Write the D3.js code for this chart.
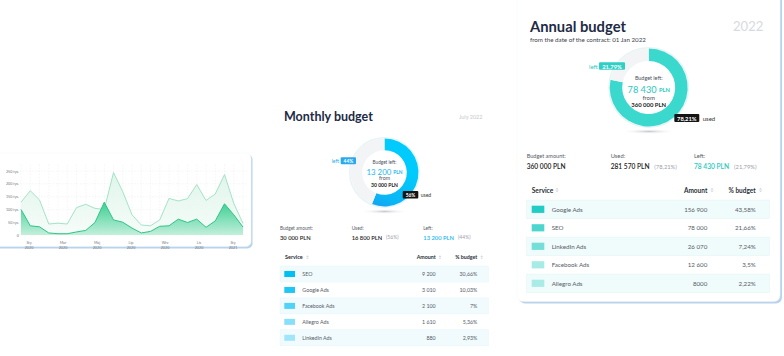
<!DOCTYPE html>
<html><head><meta charset="utf-8">
<script src="https://cdn.jsdelivr.net/npm/d3@7"></script>
<style>body{margin:0;background:#fff}svg{display:block}text{font-family:Lato,"Open Sans",sans-serif}</style>
</head><body><svg id="c" width="784" height="356"></svg>
<script>
// ---------- data ----------
const trendMonths = ["Sty","Mar","Maj","Lip","Wrz","Lis","Sty"];
const trendYears = ["2020","2020","2020","2020","2020","2020","2021"];
const trendYTicks = [0,50,100,150,200,250];
const totalSeries = [128,173,137,43,46,43,107,120,104,100,244,169,79,39,36,59,143,133,142,197,135,160,236,124,45];
const adsSeries   = [100,36,32,8,5,5,12,18,49,128,59,50,27,8,14,34,36,62,49,62,30,55,122,79,31];

const monthlyServices = ["SEO","Google Ads","Facebook Ads","Allegro Ads","LinkedIn Ads"];
const monthlyAmounts = ["9 200","3 010","2 100","1 610","880"];
const monthlyShares = ["30,66%","10,03%","7%","5,36%","2,93%"];
const monthlyColors = ["#00bff3","#1ec8f6","#4fd3f8","#86e0fa","#9fe6fb"];
const monthlySplit = [56,44]; // used, left

const annualServices = ["Google Ads","SEO","LinkedIn Ads","Facebook Ads","Allegro Ads"];
const annualAmounts = ["156 900","78 000","26 070","12 600","8000"];
const annualShares = ["43,58%","21,66%","7,24%","3,5%","2,22%"];
const annualColors = ["#20ccc3","#4dd6ce","#74dfd9","#a6ebe6","#a9ece7"];
const annualSplit = [78.21,21.79];

const svg = d3.select("#c");
const defs = svg.append("defs");

function T(g, x, y, s, o) {
  const t = g.append("text").attr("x", x).attr("y", y)
    .attr("dominant-baseline", "central")
    .attr("text-anchor", o.anchor || "start")
    .attr("fill", o.fill || "#333")
    .style("font-size", o.size + "px")
    .style("font-weight", o.w || 400);
  if (o.html) t.html(s); else t.text(s);
  if (o.width) {
    const L = t.node().getComputedTextLength();
    if (L > 0) t.style("font-size", (o.size * o.width / L) + "px");
  }
  return t;
}
function sortIcon(g, x, y, s) {
  g.append("path").attr("d", `M${x-s},${y-0.4}L${x+s},${y-0.4}L${x},${y-0.4-s*1.1}Z M${x-s},${y+0.4}L${x+s},${y+0.4}L${x},${y+0.4+s*1.1}Z`)
    .attr("fill", "#d3d7dc");
}
function badge(g, x0, x1, yc, h, fill, label, size) {
  g.append("rect").attr("x", x0).attr("y", yc - h/2).attr("width", x1 - x0).attr("height", h).attr("rx", 1).attr("fill", fill);
  T(g, (x0 + x1)/2, yc + 0.2, label, {size, w: 700, fill: "#fff", anchor: "middle"});
}

// ---------- area chart card ----------
const ac = svg.append("g");
ac.append("rect").attr("x", -8.5).attr("y", 154.5).attr("width", 261).attr("height", 94).attr("rx", 5).attr("fill", "#b9d3ec");
ac.append("rect").attr("x", -10).attr("y", 153).attr("width", 261).attr("height", 93.5).attr("rx", 5).attr("fill", "#fff").attr("stroke", "#f1f4f7").attr("stroke-width", 0.5);

const x = d3.scaleLinear().domain([0, totalSeries.length - 1]).range([21, 243]);
const y = d3.scaleLinear().domain([0, 250]).range([235, 171]);
const xm = d3.scaleLinear().domain([0, 12]).range([29, 233]);

// grid
ac.append("g").selectAll("line").data(totalSeries).join("line")
  .attr("x1", (d, i) => x(i)).attr("x2", (d, i) => x(i))
  .attr("y1", y(275)).attr("y2", y(0))
  .attr("stroke", "#e9ecef").attr("stroke-width", 0.5).attr("stroke-dasharray", "1.5,1.5");
ac.append("g").selectAll("line").data(trendYTicks).join("line")
  .attr("x1", 20).attr("x2", 247).attr("y1", d => y(d)).attr("y2", d => y(d))
  .attr("stroke", "#e9ecef").attr("stroke-width", 0.5).attr("stroke-dasharray", "1.5,1.5");

const g1 = defs.append("linearGradient").attr("id", "gTot").attr("x1", 0).attr("x2", 0).attr("y1", 0).attr("y2", 1);
g1.append("stop").attr("offset", 0).attr("stop-color", "#dcf4e9");
g1.append("stop").attr("offset", 1).attr("stop-color", "#f6fcf9");
const g2 = defs.append("linearGradient").attr("id", "gAds").attr("x1", 0).attr("x2", 0).attr("y1", 0).attr("y2", 1);
g2.append("stop").attr("offset", 0).attr("stop-color", "#3ccf93");
g2.append("stop").attr("offset", 1).attr("stop-color", "#c2efdb");

const area = d3.area().x((d, i) => x(i)).y0(y(0)).y1(d => y(d));
const line = d3.line().x((d, i) => x(i)).y(d => y(d));
ac.append("path").datum(totalSeries).attr("d", area).attr("fill", "url(#gTot)").attr("opacity", 0.9);
ac.append("path").datum(totalSeries).attr("d", line).attr("fill", "none").attr("stroke", "#a3e4c6").attr("stroke-width", 1);
ac.append("path").datum(adsSeries).attr("d", area).attr("fill", "url(#gAds)");
ac.append("path").datum(adsSeries).attr("d", line).attr("fill", "none").attr("stroke", "#2fc487").attr("stroke-width", 1);

trendYTicks.forEach(v => T(ac, 19, y(v), v === 0 ? "0" : v + " tys.", {size: 3.7, fill: "#6f7680", anchor: "end"}));
trendMonths.forEach((m, i) => {
  T(ac, xm(i * 2), 242.3, m, {size: 3.7, fill: "#6f7680", anchor: "middle"});
  T(ac, xm(i * 2), 247.3, trendYears[i], {size: 3.7, fill: "#6f7680", anchor: "middle"});
});

// ---------- donut helper ----------
function donut(g, cx, cy, rO, rI, split, gradId, restColor) {
  const pie = d3.pie().sort(null).value(d => d);
  const arc = d3.arc().innerRadius(rI).outerRadius(rO);
  const rg = defs.append("radialGradient").attr("id", gradId + "sh");
  rg.append("stop").attr("offset", 0).attr("stop-color", "#c4c8cd");
  rg.append("stop").attr("offset", 1).attr("stop-color", "#fff").attr("stop-opacity", 0);
  g.append("ellipse").attr("cx", cx).attr("cy", cy + rO + 5).attr("rx", rO * 0.7).attr("ry", 2.6).attr("fill", `url(#${gradId}sh)`);
  g.append("circle").attr("cx", cx).attr("cy", cy).attr("r", rO + 0.8).attr("fill", "none").attr("stroke", "#e7f3f6").attr("stroke-width", 1.4);
  const gg = g.append("g").attr("transform", `translate(${cx},${cy})`);
  gg.selectAll("path").data(pie(split)).join("path").attr("d", arc)
    .attr("fill", (d, i) => i === 0 ? `url(#${gradId})` : restColor);
}

// ---------- monthly ----------
const mg = svg.append("g");
T(mg, 284, 116.5, "Monthly budget", {size: 12, w: 700, fill: "#1d2b45", width: 89});
T(mg, 482.5, 117.3, "July 2022", {size: 7.5, fill: "#c5c9d0", anchor: "end", width: 23.5});

const mgr = defs.append("linearGradient").attr("id", "gMon").attr("gradientUnits", "userSpaceOnUse")
  .attr("x1", 400).attr("y1", 140).attr("x2", 375).attr("y2", 207);
mgr.append("stop").attr("offset", 0).attr("stop-color", "#00cbfc");
mgr.append("stop").attr("offset", 0.45).attr("stop-color", "#0bb6f5");
mgr.append("stop").attr("offset", 1).attr("stop-color", "#2c77e6");
donut(mg, 384.5, 172.5, 34, 22.3, monthlySplit, "gMon", "#f2f4f5");

T(mg, 384.5, 162.3, "Budget left:", {size: 5, fill: "#4b515c", anchor: "middle", width: 24});
T(mg, 384.5, 171.7, '13 200 <tspan style="font-size:0.62em;font-weight:700">PLN</tspan>', {size: 9, fill: "#1ab6f0", anchor: "middle", html: true, width: 36});
T(mg, 384.5, 178.3, "from", {size: 5.3, fill: "#4b515c", anchor: "middle"});
T(mg, 384.5, 185, "30 000 PLN", {size: 5.5, w: 700, fill: "#222", anchor: "middle", width: 27});

T(mg, 331.7, 160.7, "left", {size: 5, fill: "#27a8f0"});
badge(mg, 340.7, 356, 160.7, 7, "#2aa8f0", "44%", 4.8);
badge(mg, 402.7, 418.3, 194.8, 7.5, "#141414", "56%", 4.8);
T(mg, 420.7, 194.8, "used", {size: 5, fill: "#333"});

T(mg, 280, 227.7, "Budget amount:", {size: 4.8, fill: "#555b66", width: 33});
T(mg, 280, 237.3, "30 000 PLN", {size: 6, w: 600, fill: "#222", width: 30.7});
T(mg, 351.7, 227.7, "Used:", {size: 4.8, fill: "#555b66"});
T(mg, 351.7, 237.3, "16 800 PLN", {size: 6, w: 600, fill: "#222", width: 30.7});
T(mg, 386, 237.3, "(56%)", {size: 5, fill: "#9aa0a8"});
T(mg, 423.3, 227.7, "Left:", {size: 4.8, fill: "#555b66"});
T(mg, 423.3, 237.3, "13 200 PLN", {size: 6, w: 600, fill: "#1ab6f0", width: 30.7});
T(mg, 458, 237.3, "(44%)", {size: 5, fill: "#9aa0a8"});

T(mg, 285, 257.3, "Service", {size: 5.3, w: 700, fill: "#2a2f38", width: 17.7});
sortIcon(mg, 307.5, 257.3, 1.4);
T(mg, 435.7, 257.3, "Amount", {size: 5.3, w: 700, fill: "#2a2f38", anchor: "end"});
sortIcon(mg, 440, 257.3, 1.4);
T(mg, 477.3, 257.3, "% budget", {size: 5.3, w: 700, fill: "#2a2f38", anchor: "end"});
sortIcon(mg, 481.7, 257.3, 1.4);

const mRowY = i => 274 + i * 15.95;
monthlyServices.forEach((s, i) => {
  const yc = mRowY(i);
  if (i % 2 === 0) mg.append("rect").attr("x", 280).attr("y", yc - 8).attr("width", 208.3).attr("height", 16)
    .attr("fill", "#f1fbfe").attr("stroke", "#e1f5fc").attr("stroke-width", 0.5);
  mg.append("rect").attr("x", 284.3).attr("y", yc - 3).attr("width", 10.7).attr("height", 6).attr("fill", monthlyColors[i]);
  T(mg, 302.3, yc, s, {size: 5.3, fill: "#555b66"});
  T(mg, 435.7, yc, monthlyAmounts[i], {size: 5.3, fill: "#555b66", anchor: "end"});
  T(mg, 477.3, yc, monthlyShares[i], {size: 5.3, fill: "#555b66", anchor: "end"});
});

// ---------- annual card ----------
const an = svg.append("g");
an.append("rect").attr("x", 519).attr("y", -8).attr("width", 263).attr("height", 311.5).attr("rx", 6).attr("fill", "#b9d3ec");
an.append("rect").attr("x", 517).attr("y", -10).attr("width", 263).attr("height", 311.5).attr("rx", 6).attr("fill", "#fff").attr("stroke", "#f1f4f7").attr("stroke-width", 0.5);

T(an, 530, 26.3, "Annual budget", {size: 16, w: 700, fill: "#1d2b45", width: 96});
T(an, 763.3, 25.5, "2022", {size: 14, fill: "#d7dadf", anchor: "end", width: 30.3});
T(an, 530, 39.3, "from the date of the contract: 01 Jan 2022", {size: 6.2, fill: "#3b414b", width: 116});

const agr = defs.append("linearGradient").attr("id", "gAnn").attr("gradientUnits", "userSpaceOnUse")
  .attr("x1", 685).attr("y1", 55).attr("x2", 615).attr("y2", 120);
agr.append("stop").attr("offset", 0).attr("stop-color", "#12b3ad");
agr.append("stop").attr("offset", 1).attr("stop-color", "#3ad8cd");
donut(an, 648.7, 87.5, 39, 26.5, annualSplit, "gAnn", "#f2f4f5");

T(an, 648.7, 78.3, "Budget left:", {size: 6, fill: "#4b515c", anchor: "middle", width: 27.7});
T(an, 648.7, 89.3, '78 430 <tspan style="font-size:0.62em;font-weight:700">PLN</tspan>', {size: 11, fill: "#27c8bd", anchor: "middle", html: true, width: 42.3});
T(an, 648.7, 97.5, "from", {size: 6, fill: "#4b515c", anchor: "middle"});
T(an, 648.7, 104.3, "360 000 PLN", {size: 6.5, w: 700, fill: "#222", anchor: "middle", width: 35});

T(an, 589, 66, "left", {size: 6, fill: "#2cc9c0"});
badge(an, 599, 625, 66, 7.5, "#2fcfc5", "21,79%", 5.8);
badge(an, 674.3, 699.3, 118, 8, "#141414", "78,21%", 5.8);
T(an, 702.7, 118, "used", {size: 6, fill: "#333"});

T(an, 526.7, 155.7, "Budget amount:", {size: 5.8, fill: "#555b66", width: 39});
T(an, 526.7, 166, "360 000 PLN", {size: 7, w: 600, fill: "#222", width: 39});
T(an, 610.7, 155.7, "Used:", {size: 5.8, fill: "#555b66"});
T(an, 610.7, 166, "281 570 PLN", {size: 7, w: 600, fill: "#222", width: 39});
T(an, 654.3, 166, "(78,21%)", {size: 5.8, fill: "#9aa0a8"});
T(an, 694, 155.7, "Left:", {size: 5.8, fill: "#555b66"});
T(an, 694, 166, "78 430 PLN", {size: 7, w: 600, fill: "#27c8bd", width: 35});
T(an, 734, 166, "(21,79%)", {size: 5.8, fill: "#9aa0a8"});

T(an, 531.7, 190, "Service", {size: 6.5, w: 700, fill: "#2a2f38", width: 21.7});
sortIcon(an, 557, 190, 1.7);
T(an, 707.3, 190, "Amount", {size: 6.5, w: 700, fill: "#2a2f38", anchor: "end"});
sortIcon(an, 712, 190, 1.7);
T(an, 755.7, 190, "% budget", {size: 6.5, w: 700, fill: "#2a2f38", anchor: "end"});
sortIcon(an, 760.5, 190, 1.7);

const aRowY = i => 209.3 + i * 18.5;
annualServices.forEach((s, i) => {
  const yc = aRowY(i);
  if (i % 2 === 0) an.append("rect").attr("x", 526.7).attr("y", yc - 9.25).attr("width", 242.6).attr("height", 18.5)
    .attr("fill", "#f0fbfb").attr("stroke", "#dff4f3").attr("stroke-width", 0.5);
  an.append("rect").attr("x", 531.7).attr("y", yc - 3.6).attr("width", 12.6).attr("height", 7.2).attr("fill", annualColors[i]);
  T(an, 551.7, yc, s, {size: 6.2, fill: "#555b66"});
  T(an, 707.3, yc, annualAmounts[i], {size: 6.2, fill: "#555b66", anchor: "end"});
  T(an, 755.7, yc, annualShares[i], {size: 6.2, fill: "#555b66", anchor: "end"});
});
</script></body></html>
